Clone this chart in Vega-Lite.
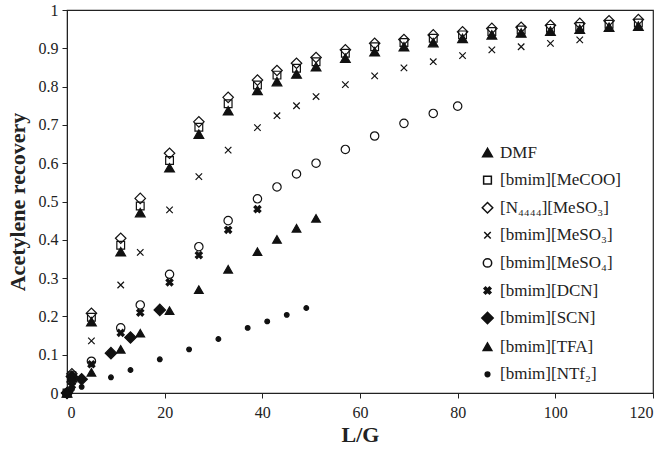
{
  "$schema": "https://vega.github.io/schema/vega-lite/v6.json",
  "width": 586,
  "height": 383,
  "autosize": {"type": "none"},
  "padding": {"left": 67, "top": 10, "right": 9, "bottom": 59},
  "background": "white",
  "config": {
    "view": {"stroke": "#222", "strokeWidth": 1.2},
    "axis": {
      "domainColor": "#222", "tickColor": "#222", "tickSize": 5, "grid": false,
      "labelFont": "Liberation Serif", "labelFontSize": 16, "labelColor": "#222",
      "titleFont": "Liberation Serif", "titleFontSize": 22, "titleFontWeight": "bold", "titleColor": "#222"
    },
    "legend": {
      "labelFont": "Liberation Serif", "labelFontSize": 17, "labelColor": "#222"
    }
  },
  "data": {"values": [
    {"series": "DMF", "x": 0, "y": 0}, {"series": "DMF", "x": 1, "y": 0.04}, {"series": "DMF", "x": 5, "y": 0.186}, {"series": "DMF", "x": 11, "y": 0.369}, {"series": "DMF", "x": 15, "y": 0.471}, {"series": "DMF", "x": 21, "y": 0.588}, {"series": "DMF", "x": 27, "y": 0.676}, {"series": "DMF", "x": 33, "y": 0.737}, {"series": "DMF", "x": 39, "y": 0.79}, {"series": "DMF", "x": 43, "y": 0.813}, {"series": "DMF", "x": 47, "y": 0.833}, {"series": "DMF", "x": 51, "y": 0.852}, {"series": "DMF", "x": 57, "y": 0.874}, {"series": "DMF", "x": 63, "y": 0.891}, {"series": "DMF", "x": 69, "y": 0.904}, {"series": "DMF", "x": 75, "y": 0.915}, {"series": "DMF", "x": 81, "y": 0.926}, {"series": "DMF", "x": 87, "y": 0.935}, {"series": "DMF", "x": 93, "y": 0.94}, {"series": "DMF", "x": 99, "y": 0.945}, {"series": "DMF", "x": 105, "y": 0.95}, {"series": "DMF", "x": 111, "y": 0.955}, {"series": "DMF", "x": 117, "y": 0.958},
    {"series": "[bmim][MeCOO]", "x": 0, "y": 0}, {"series": "[bmim][MeCOO]", "x": 1, "y": 0.045}, {"series": "[bmim][MeCOO]", "x": 5, "y": 0.198}, {"series": "[bmim][MeCOO]", "x": 11, "y": 0.386}, {"series": "[bmim][MeCOO]", "x": 15, "y": 0.488}, {"series": "[bmim][MeCOO]", "x": 21, "y": 0.607}, {"series": "[bmim][MeCOO]", "x": 27, "y": 0.694}, {"series": "[bmim][MeCOO]", "x": 33, "y": 0.755}, {"series": "[bmim][MeCOO]", "x": 39, "y": 0.804}, {"series": "[bmim][MeCOO]", "x": 43, "y": 0.83}, {"series": "[bmim][MeCOO]", "x": 47, "y": 0.848}, {"series": "[bmim][MeCOO]", "x": 51, "y": 0.865}, {"series": "[bmim][MeCOO]", "x": 57, "y": 0.887}, {"series": "[bmim][MeCOO]", "x": 63, "y": 0.904}, {"series": "[bmim][MeCOO]", "x": 69, "y": 0.915}, {"series": "[bmim][MeCOO]", "x": 75, "y": 0.926}, {"series": "[bmim][MeCOO]", "x": 81, "y": 0.935}, {"series": "[bmim][MeCOO]", "x": 87, "y": 0.944}, {"series": "[bmim][MeCOO]", "x": 93, "y": 0.948}, {"series": "[bmim][MeCOO]", "x": 99, "y": 0.952}, {"series": "[bmim][MeCOO]", "x": 105, "y": 0.957}, {"series": "[bmim][MeCOO]", "x": 111, "y": 0.963}, {"series": "[bmim][MeCOO]", "x": 117, "y": 0.966},
    {"series": "[N₄₄₄₄][MeSO₃]", "x": 0, "y": 0}, {"series": "[N₄₄₄₄][MeSO₃]", "x": 1, "y": 0.05}, {"series": "[N₄₄₄₄][MeSO₃]", "x": 5, "y": 0.208}, {"series": "[N₄₄₄₄][MeSO₃]", "x": 11, "y": 0.404}, {"series": "[N₄₄₄₄][MeSO₃]", "x": 15, "y": 0.508}, {"series": "[N₄₄₄₄][MeSO₃]", "x": 21, "y": 0.626}, {"series": "[N₄₄₄₄][MeSO₃]", "x": 27, "y": 0.708}, {"series": "[N₄₄₄₄][MeSO₃]", "x": 33, "y": 0.772}, {"series": "[N₄₄₄₄][MeSO₃]", "x": 39, "y": 0.817}, {"series": "[N₄₄₄₄][MeSO₃]", "x": 43, "y": 0.842}, {"series": "[N₄₄₄₄][MeSO₃]", "x": 47, "y": 0.861}, {"series": "[N₄₄₄₄][MeSO₃]", "x": 51, "y": 0.876}, {"series": "[N₄₄₄₄][MeSO₃]", "x": 57, "y": 0.896}, {"series": "[N₄₄₄₄][MeSO₃]", "x": 63, "y": 0.913}, {"series": "[N₄₄₄₄][MeSO₃]", "x": 69, "y": 0.923}, {"series": "[N₄₄₄₄][MeSO₃]", "x": 75, "y": 0.935}, {"series": "[N₄₄₄₄][MeSO₃]", "x": 81, "y": 0.943}, {"series": "[N₄₄₄₄][MeSO₃]", "x": 87, "y": 0.952}, {"series": "[N₄₄₄₄][MeSO₃]", "x": 93, "y": 0.955}, {"series": "[N₄₄₄₄][MeSO₃]", "x": 99, "y": 0.96}, {"series": "[N₄₄₄₄][MeSO₃]", "x": 105, "y": 0.965}, {"series": "[N₄₄₄₄][MeSO₃]", "x": 111, "y": 0.972}, {"series": "[N₄₄₄₄][MeSO₃]", "x": 117, "y": 0.975},
    {"series": "[bmim][MeSO₃]", "x": 0, "y": 0}, {"series": "[bmim][MeSO₃]", "x": 1, "y": 0.03}, {"series": "[bmim][MeSO₃]", "x": 5, "y": 0.136}, {"series": "[bmim][MeSO₃]", "x": 11, "y": 0.282}, {"series": "[bmim][MeSO₃]", "x": 15, "y": 0.367}, {"series": "[bmim][MeSO₃]", "x": 21, "y": 0.478}, {"series": "[bmim][MeSO₃]", "x": 27, "y": 0.565}, {"series": "[bmim][MeSO₃]", "x": 33, "y": 0.634}, {"series": "[bmim][MeSO₃]", "x": 39, "y": 0.693}, {"series": "[bmim][MeSO₃]", "x": 43, "y": 0.724}, {"series": "[bmim][MeSO₃]", "x": 47, "y": 0.75}, {"series": "[bmim][MeSO₃]", "x": 51, "y": 0.774}, {"series": "[bmim][MeSO₃]", "x": 57, "y": 0.805}, {"series": "[bmim][MeSO₃]", "x": 63, "y": 0.828}, {"series": "[bmim][MeSO₃]", "x": 69, "y": 0.849}, {"series": "[bmim][MeSO₃]", "x": 75, "y": 0.865}, {"series": "[bmim][MeSO₃]", "x": 81, "y": 0.881}, {"series": "[bmim][MeSO₃]", "x": 87, "y": 0.896}, {"series": "[bmim][MeSO₃]", "x": 93, "y": 0.904}, {"series": "[bmim][MeSO₃]", "x": 99, "y": 0.913}, {"series": "[bmim][MeSO₃]", "x": 105, "y": 0.922},
    {"series": "[bmim][MeSO₄]", "x": 0, "y": 0}, {"series": "[bmim][MeSO₄]", "x": 1, "y": 0.03}, {"series": "[bmim][MeSO₄]", "x": 5, "y": 0.083}, {"series": "[bmim][MeSO₄]", "x": 11, "y": 0.17}, {"series": "[bmim][MeSO₄]", "x": 15, "y": 0.23}, {"series": "[bmim][MeSO₄]", "x": 21, "y": 0.31}, {"series": "[bmim][MeSO₄]", "x": 27, "y": 0.382}, {"series": "[bmim][MeSO₄]", "x": 33, "y": 0.45}, {"series": "[bmim][MeSO₄]", "x": 39, "y": 0.507}, {"series": "[bmim][MeSO₄]", "x": 43, "y": 0.538}, {"series": "[bmim][MeSO₄]", "x": 47, "y": 0.572}, {"series": "[bmim][MeSO₄]", "x": 51, "y": 0.6}, {"series": "[bmim][MeSO₄]", "x": 57, "y": 0.636}, {"series": "[bmim][MeSO₄]", "x": 63, "y": 0.671}, {"series": "[bmim][MeSO₄]", "x": 69, "y": 0.704}, {"series": "[bmim][MeSO₄]", "x": 75, "y": 0.73}, {"series": "[bmim][MeSO₄]", "x": 80, "y": 0.749},
    {"series": "[bmim][DCN]", "x": 0, "y": 0}, {"series": "[bmim][DCN]", "x": 1, "y": 0.02}, {"series": "[bmim][DCN]", "x": 5, "y": 0.075}, {"series": "[bmim][DCN]", "x": 11, "y": 0.157}, {"series": "[bmim][DCN]", "x": 15, "y": 0.21}, {"series": "[bmim][DCN]", "x": 21, "y": 0.289}, {"series": "[bmim][DCN]", "x": 27, "y": 0.36}, {"series": "[bmim][DCN]", "x": 33, "y": 0.426}, {"series": "[bmim][DCN]", "x": 39, "y": 0.48},
    {"series": "[bmim][SCN]", "x": 0, "y": 0}, {"series": "[bmim][SCN]", "x": 1, "y": 0.043}, {"series": "[bmim][SCN]", "x": 3, "y": 0.036}, {"series": "[bmim][SCN]", "x": 9, "y": 0.104}, {"series": "[bmim][SCN]", "x": 13, "y": 0.145}, {"series": "[bmim][SCN]", "x": 19, "y": 0.217},
    {"series": "[bmim][TFA]", "x": 0, "y": 0}, {"series": "[bmim][TFA]", "x": 1, "y": 0.04}, {"series": "[bmim][TFA]", "x": 5, "y": 0.054}, {"series": "[bmim][TFA]", "x": 11, "y": 0.114}, {"series": "[bmim][TFA]", "x": 15, "y": 0.156}, {"series": "[bmim][TFA]", "x": 21, "y": 0.215}, {"series": "[bmim][TFA]", "x": 27, "y": 0.27}, {"series": "[bmim][TFA]", "x": 33, "y": 0.323}, {"series": "[bmim][TFA]", "x": 39, "y": 0.369}, {"series": "[bmim][TFA]", "x": 43, "y": 0.401}, {"series": "[bmim][TFA]", "x": 47, "y": 0.43}, {"series": "[bmim][TFA]", "x": 51, "y": 0.456},
    {"series": "[bmim][NTf₂]", "x": 0, "y": 0}, {"series": "[bmim][NTf₂]", "x": 1, "y": 0.01}, {"series": "[bmim][NTf₂]", "x": 3, "y": 0.016}, {"series": "[bmim][NTf₂]", "x": 9, "y": 0.041}, {"series": "[bmim][NTf₂]", "x": 13, "y": 0.06}, {"series": "[bmim][NTf₂]", "x": 19, "y": 0.088}, {"series": "[bmim][NTf₂]", "x": 25, "y": 0.114}, {"series": "[bmim][NTf₂]", "x": 31, "y": 0.141}, {"series": "[bmim][NTf₂]", "x": 37, "y": 0.17}, {"series": "[bmim][NTf₂]", "x": 41, "y": 0.187}, {"series": "[bmim][NTf₂]", "x": 45, "y": 0.204}, {"series": "[bmim][NTf₂]", "x": 49, "y": 0.222}
  ]},
  "mark": {"type": "point", "filled": true, "stroke": "#111", "strokeWidth": 1.2, "opacity": 1},
  "encoding": {
    "x": {"field": "x", "type": "quantitative", "title": "L/G",
      "scale": {"domain": [0, 120], "nice": false},
      "axis": {"values": [0, 20, 40, 60, 80, 100, 120], "labelPadding": 6, "titlePadding": 4}},
    "y": {"field": "y", "type": "quantitative", "title": "Acetylene recovery",
      "scale": {"domain": [0, 1], "nice": false},
      "axis": {"values": [0, 0.1, 0.2, 0.3, 0.4, 0.5, 0.6, 0.7, 0.8, 0.9, 1], "format": "~g", "labelPadding": 4, "titlePadding": 9}},
    "shape": {"field": "series", "type": "nominal", "title": "",
      "scale": {
        "domain": ["DMF", "[bmim][MeCOO]", "[N₄₄₄₄][MeSO₃]", "[bmim][MeSO₃]", "[bmim][MeSO₄]", "[bmim][DCN]", "[bmim][SCN]", "[bmim][TFA]", "[bmim][NTf₂]"],
        "range": ["triangle-up", "square", "diamond", "M-1,-1L1,1M-1,1L1,-1", "circle", "M-1,-0.55L-0.55,-1L0,-0.45L0.55,-1L1,-0.55L0.45,0L1,0.55L0.55,1L0,0.45L-0.55,1L-1,0.55L-0.45,0Z", "diamond", "triangle-up", "circle"]
      },
      "legend": {"orient": "none", "legendX": 412, "legendY": 134, "rowPadding": 9.6, "labelOffset": 4, "padding": 0,
        "encode": {"symbols": {"update": {"stroke": {"value": "#111"}, "strokeWidth": {"value": 1.2}}}}}
    },
    "fill": {"field": "series", "type": "nominal", "title": "",
      "scale": {
        "domain": ["DMF", "[bmim][MeCOO]", "[N₄₄₄₄][MeSO₃]", "[bmim][MeSO₃]", "[bmim][MeSO₄]", "[bmim][DCN]", "[bmim][SCN]", "[bmim][TFA]", "[bmim][NTf₂]"],
        "range": ["#111", "transparent", "transparent", "transparent", "transparent", "#111", "#111", "#111", "#111"]
      }
    },
    "size": {"field": "series", "type": "nominal", "title": "",
      "scale": {
        "type": "ordinal",
        "domain": ["DMF", "[bmim][MeCOO]", "[N₄₄₄₄][MeSO₃]", "[bmim][MeSO₃]", "[bmim][MeSO₄]", "[bmim][DCN]", "[bmim][SCN]", "[bmim][TFA]", "[bmim][NTf₂]"],
        "range": [95, 60, 110, 42, 70, 48, 130, 75, 22]
      }
    }
  }
}
